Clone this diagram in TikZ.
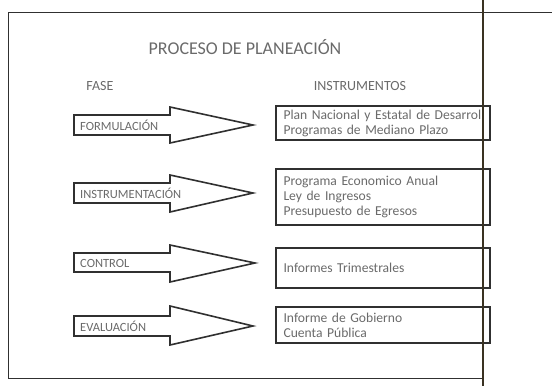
\documentclass[tikz,border=0pt]{standalone}
\usepackage{fontspec}
\setmainfont{Carlito}
\usetikzlibrary{positioning}

\definecolor{linea}{HTML}{303030}
\definecolor{gris}{HTML}{6A6A6A}
\definecolor{borde}{HTML}{3A3222}

\tikzset{
  titulo/.style = {font = \fontsize{18}{21}\selectfont, text = gris, inner sep = 0pt},
  encabezado/.style = {font = \fontsize{14}{16}\selectfont, text = gris, inner sep = 0pt},
  flecha/.style = {draw = linea, line width = 1.6pt, line join = miter, fill = white},
  etiqueta/.style = {font = \fontsize{12.5}{14}\selectfont, text = gris, anchor = west, inner sep = 0pt},
  caja/.style = {draw = linea, line width = 1.6pt, minimum width = 214pt, inner xsep = 7pt,
                 text width = 199pt, align = left, text = gris,
                 font = \fontsize{13.6}{15}\selectfont},
}

\begin{document}
\begin{tikzpicture}[x = 1pt, y = -1pt]
    \useasboundingbox (0, 0) rectangle (552, 386);

    \coordinate (M1) at (8, 12);
    \coordinate (M2) at (483, 12);
    \coordinate (M3) at (483, 378);
    \coordinate (M4) at (8, 378);
    \coordinate (M5) at (552, 12);
    \coordinate (V1) at (483, 0);
    \coordinate (V2) at (483, 386);

    \draw [draw = linea, line width = 0.9pt] (M2) -- (M1) -- (M4) -- (M3);
    \draw [draw = linea, line width = 0.9pt] (M2) -- (M5);

    \node [titulo] (titulo) at (245, 47) {PROCESO DE PLANEACIÓN};
    \node [encabezado] (fase) at (100, 86) {FASE};
    \node [encabezado] (instrumentos) at (360, 86) {INSTRUMENTOS};

    \draw [flecha] (74, 115) -- (170, 115) -- (170, 107) -- (253, 125) -- (170, 143) -- (170, 135) -- (74, 135) -- cycle;
    \draw [flecha] (74, 183) -- (170, 183) -- (170, 175) -- (253, 193) -- (170, 212) -- (170, 203) -- (74, 203) -- cycle;
    \draw [flecha] (74, 253) -- (170, 253) -- (170, 245) -- (255, 263) -- (170, 282) -- (170, 272) -- (74, 272) -- cycle;
    \draw [flecha] (74, 316) -- (170, 316) -- (170, 306) -- (253, 326) -- (170, 345) -- (170, 336) -- (74, 336) -- cycle;

    \node [etiqueta] (formulacion) at (80, 125) {FORMULACIÓN};
    \node [etiqueta] (instrumentacion) at (80, 193) {INSTRUMENTACIÓN};
    \node [etiqueta] (control) at (80, 263) {CONTROL};
    \node [etiqueta] (evaluacion) at (80, 326) {EVALUACIÓN};

    \node [caja, minimum height = 34pt] (plan) at (383, 123) {\mbox{Plan Nacional y Estatal de Desarroll}\\Programas de Mediano Plazo};
    \node [caja, minimum height = 56pt] (programa) at (383, 197) {Programa Economico Anual\\Ley de Ingresos\\Presupuesto de Egresos};
    \node [caja, minimum height = 40pt] (informes) at (383, 268) {Informes Trimestrales};
    \node [caja, minimum height = 36pt] (gobierno) at (383, 325) {Informe de Gobierno\\Cuenta Pública};

    \draw [draw = borde, line width = 2.2pt] (V1) -- (V2);
\end{tikzpicture}
\end{document}
